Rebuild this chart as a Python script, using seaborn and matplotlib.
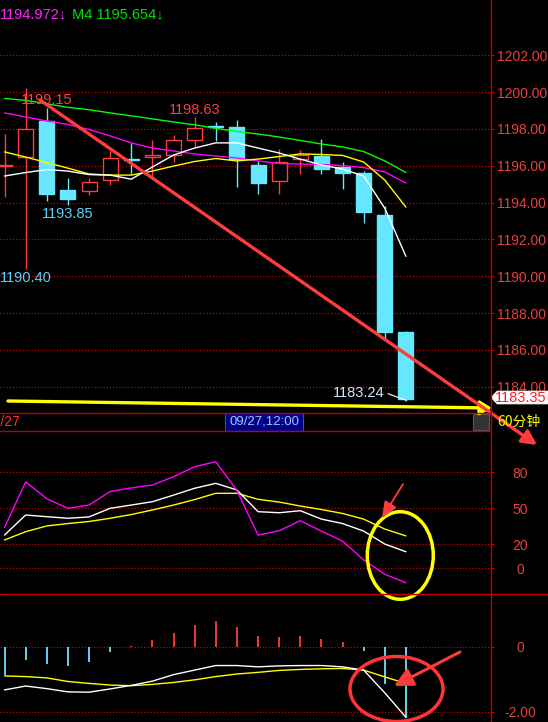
import numpy as np
import pandas as pd
import seaborn as sns
import matplotlib.pyplot as plt
from matplotlib.patches import Ellipse, FancyArrowPatch, Polygon, Rectangle
from matplotlib.lines import Line2D

# --- 60 minute candles ---
opens = [1195.98, 1196.46, 1198.44, 1194.68, 1194.64, 1195.22, 1196.38, 1196.46, 1196.58, 1197.38,
         1198.18, 1198.09, 1196.04, 1195.18, 1196.35, 1196.53, 1195.95, 1195.62, 1193.31, 1186.99]
closes = [1196.02, 1197.98, 1194.46, 1194.17, 1195.10, 1196.40, 1196.32, 1196.56, 1197.38, 1198.04,
          1198.12, 1196.35, 1195.07, 1196.19, 1196.58, 1195.80, 1195.62, 1193.49, 1186.99, 1183.35]
highs = [1197.73, 1200.20, 1199.15, 1195.31, 1195.35, 1196.80, 1197.22, 1197.40, 1197.67, 1198.63,
         1198.37, 1198.49, 1196.27, 1196.91, 1196.86, 1197.45, 1196.19, 1195.70, 1193.80, 1187.05]
lows = [1194.29, 1190.40, 1194.08, 1193.85, 1194.40, 1194.95, 1195.53, 1195.26, 1196.22, 1197.04,
        1197.36, 1194.86, 1194.44, 1194.44, 1195.53, 1195.55, 1194.73, 1192.89, 1186.60, 1183.24]

# moving averages
ma_white = [1195.44, 1195.63, 1195.79, 1195.71, 1195.52, 1195.49, 1195.27, 1195.93, 1196.58, 1196.96,
            1197.24, 1197.24, 1196.96, 1196.69, 1196.36, 1196.04, 1195.82, 1195.44, 1193.69, 1191.08]
ma_yellow = [1196.75, 1196.47, 1196.17, 1195.87, 1195.55, 1195.49, 1195.49, 1195.71, 1195.98, 1196.23,
             1196.39, 1196.26, 1196.36, 1196.50, 1196.64, 1196.61, 1196.56, 1196.20, 1195.22, 1193.75]
ma_magenta = [1198.87, 1198.65, 1198.43, 1198.24, 1197.97, 1197.62, 1197.24, 1196.96, 1196.80, 1196.64,
              1196.53, 1196.42, 1196.26, 1196.12, 1196.09, 1196.07, 1196.01, 1195.90, 1195.66, 1195.06]
ma_green = [1199.65, 1199.55, 1199.36, 1199.17, 1199.04, 1198.87, 1198.71, 1198.54, 1198.38, 1198.22,
            1198.03, 1197.86, 1197.72, 1197.56, 1197.37, 1197.18, 1197.02, 1196.77, 1196.26, 1195.63]

# KDJ
k_line = [27.7, 44.4, 43.0, 41.7, 42.8, 50.0, 52.7, 55.5, 61.0, 66.7,
          70.8, 65.3, 47.2, 46.3, 48.0, 41.0, 37.3, 31.0, 20.2, 13.8]
d_line = [23.6, 30.5, 35.3, 37.3, 39.0, 41.7, 44.8, 48.6, 52.7, 57.3,
          62.5, 62.5, 57.5, 55.2, 51.9, 49.0, 45.7, 41.0, 32.7, 27.0]
j_line = [34.0, 72.0, 58.0, 50.0, 52.7, 64.0, 67.0, 69.4, 76.3, 84.7,
          88.8, 65.0, 27.7, 31.3, 39.7, 31.0, 22.7, 7.0, -5.0, -12.0]

# MACD
macd_dif = [-1.33, -1.21, -1.29, -1.39, -1.40, -1.30, -1.19, -1.06, -0.86, -0.72,
            -0.58, -0.58, -0.62, -0.59, -0.58, -0.58, -0.62, -0.72, -1.42, -2.17]
macd_dea = [-0.90, -0.92, -0.96, -1.07, -1.13, -1.18, -1.20, -1.16, -1.10, -1.02,
            -0.92, -0.84, -0.79, -0.73, -0.70, -0.68, -0.67, -0.72, -0.93, -1.13]
macd_hist = [-0.87, -0.41, -0.53, -0.59, -0.47, -0.16, 0.02, 0.21, 0.43, 0.67,
             0.79, 0.61, 0.33, 0.31, 0.33, 0.24, 0.15, -0.13, -1.15, -2.20]

price_ticks = [1184, 1186, 1188, 1190, 1192, 1194, 1196, 1198, 1200, 1202]
kdj_ticks = [0, 20, 50, 80]
macd_ticks = [-2.0, 0.0]
macd_tick_labels = ['-2.00', '0']

UP = '#ff3c3c'
DOWN = '#66e6ff'
GRID = '#c80000'
AXRED = '#e8403c'

W, H = 548, 722
def fx(px):
    return px / W
def fy(py):
    return 1 - py / H

sns.set_theme(style='dark')
plt.rcParams['font.family'] = ['Liberation Sans', 'DejaVu Sans']

df = pd.DataFrame({'t': np.arange(len(opens)), 'open': opens, 'close': closes,
                   'high': highs, 'low': lows, 'ma1': ma_white, 'ma2': ma_yellow,
                   'ma3': ma_magenta, 'ma4': ma_green, 'k': k_line, 'd': d_line,
                   'j': j_line, 'dif': macd_dif, 'dea': macd_dea, 'hist': macd_hist})

fig = plt.figure(figsize=(W / 100, H / 100), dpi=100, facecolor='black')
ax1 = fig.add_axes([0, fy(412), fx(490), 412 / H])
ax2 = fig.add_axes([0, fy(593), fx(490), 162 / H])
ax3 = fig.add_axes([0, 0, fx(490), 129 / H])

xlim = (-0.213, 22.98)
for ax in (ax1, ax2, ax3):
    ax.set_facecolor('black')
    ax.set_xlim(*xlim)
    ax.set_xticks([])
    for s in ax.spines.values():
        s.set_visible(False)
    ax.yaxis.tick_right()
    ax.tick_params(axis='y', direction='out', length=2.9, width=0.8, color=GRID,
                   labelcolor=AXRED, labelsize=10, left=False, right=True,
                   labelleft=False, labelright=True)

# ---- price panel ----
ax1.set_ylim(1182.625, 1205.0)
ax1.set_yticks(price_ticks)
ax1.set_yticklabels([f'{v:.2f}' for v in price_ticks])
ax1.tick_params(axis='y', pad=2.2)
for v in price_ticks:
    ax1.axhline(v, color=GRID, lw=0.9, ls=(0, (1, 1.5)), zorder=1)

up = df['close'] >= df['open']
ax1.vlines(df['t'], df['low'], df['high'], colors=np.where(up, UP, DOWN), lw=1.0, zorder=2)
body = (df['close'] - df['open']).abs().clip(lower=0.03)
bottom = df[['open', 'close']].min(axis=1)
ax1.bar(df['t'][up], body[up], bottom=bottom[up], width=0.71, facecolor='black',
        edgecolor=UP, lw=1.0, zorder=3)
ax1.bar(df['t'][~up], body[~up], bottom=bottom[~up], width=0.71, facecolor=DOWN,
        edgecolor=DOWN, lw=1.0, zorder=3)

for col, c in [('ma4', '#00ff00'), ('ma3', '#ff00ff'), ('ma2', '#ffff00'), ('ma1', 'white')]:
    sns.lineplot(data=df, x='t', y=col, ax=ax1, color=c, lw=1.0, legend=False, zorder=4)
ax1.set_xlabel('')
ax1.set_ylabel('')

ax1.text(2, 1199.33, '1199.15', color=UP, fontsize=10.5, ha='center', va='baseline', zorder=5)
ax1.text(9, 1198.80, '1198.63', color=UP, fontsize=10.5, ha='center', va='baseline', zorder=5)
ax1.text(3, 1193.18, '1193.85', color='#5ad2ff', fontsize=10.5, ha='center', va='baseline', zorder=5)
ax1.text(1, 1189.69, '1190.40', color='#5ad2ff', fontsize=10.5, ha='center', va='baseline', zorder=5)
ax1.text(18.0, 1183.42, '1183.24', color='#d0e8ff', fontsize=10.5, ha='right', va='baseline', zorder=5)
ax1.plot([18.15, 19.0], [1183.62, 1183.26], color='white', lw=0.8, zorder=5)

# ---- KDJ panel ----
ax2.set_ylim(-20.58, 114.42)
ax2.set_yticks(kdj_ticks)
ax2.set_yticklabels([str(v) for v in kdj_ticks])
ax2.tick_params(axis='y', pad=18.7)
for lab in ax2.get_yticklabels():
    lab.set_horizontalalignment('center')
for v in kdj_ticks:
    ax2.axhline(v, color=GRID, lw=0.9, ls=(0, (1, 1.5)), zorder=1)
for col, c in [('d', '#ffff00'), ('k', 'white'), ('j', '#ff00ff')]:
    sns.lineplot(data=df, x='t', y=col, ax=ax2, color=c, lw=1.0, legend=False, zorder=3)
ax2.set_xlabel('')
ax2.set_ylabel('')

# ---- MACD panel ----
ax3.set_ylim(-2.317, 1.652)
ax3.set_yticks(macd_ticks)
ax3.set_yticklabels(macd_tick_labels)
ax3.tick_params(axis='y', pad=18.7)
for lab in ax3.get_yticklabels():
    lab.set_horizontalalignment('center')
for v in macd_ticks:
    ax3.axhline(v, color=GRID, lw=0.9, ls=(0, (1, 1.5)), zorder=1)
ax3.vlines(df['t'], 0, df['hist'], colors=np.where(df['hist'] > 0, UP, DOWN), lw=1.3, zorder=2)
sns.lineplot(data=df, x='t', y='dea', ax=ax3, color='#ffff00', lw=1.0, legend=False, zorder=3)
sns.lineplot(data=df, x='t', y='dif', ax=ax3, color='white', lw=1.0, legend=False, zorder=3)
ax3.set_xlabel('')
ax3.set_ylabel('')

# ---- frame lines ----
for (x0, y0, x1, y1) in [(490.5, 0, 490.5, 722), (0, 412.5, 490, 412.5),
                         (0, 431, 490, 431), (0, 593.5, 548, 593.5)]:
    fig.add_artist(Line2D([fx(x0), fx(x1)], [fy(y0), fy(y1)], color='#c00000', lw=1.0,
                          transform=fig.transFigure))

# ---- top legend ----
fig.text(fx(0), fy(18.3), '1194.972↓', color='#ff22ff', fontsize=10.5, va='baseline')
fig.text(fx(72), fy(18.3), 'M4 1195.654↓', color='#00e000', fontsize=10.5, va='baseline')

# ---- time bar ----
fig.text(fx(20.5), fy(422), '09/27', color='#ff3030', fontsize=10, ha='right', va='center')
fig.add_artist(Rectangle((fx(225), fy(431)), 78 / W, 18 / H, transform=fig.transFigure,
                         facecolor='#000088', edgecolor='#3050c0', lw=0.8))
fig.text(fx(264), fy(422), '09/27,12:00', color='#9ec8ff', fontsize=9.5, ha='center', va='center')
fig.add_artist(Rectangle((fx(473), fy(430)), 16 / W, 16 / H, transform=fig.transFigure,
                         facecolor='#333333', edgecolor='#5a5a5a', lw=0.8))
fig.text(fx(497), fy(422), '60分钟', color='#ffff00', fontsize=10, ha='left', va='center',
         family=['Noto Sans CJK SC', 'DejaVu Sans'])

# ---- last price tag ----
tag = [(491, 397.5), (497, 391), (548, 391), (548, 404), (497, 404)]
fig.add_artist(Polygon([(fx(a), fy(b)) for a, b in tag], closed=True, transform=fig.transFigure,
                       facecolor='white', edgecolor='#dddddd', lw=0.5))
fig.text(fx(521), fy(397.5), '1183.35', color='#ff2020', fontsize=10.5, ha='center', va='center')

# ---- hand drawn marks ----
fig.add_artist(FancyArrowPatch((fx(8), fy(401)), (fx(492), fy(408)), transform=fig.transFigure,
                               arrowstyle='-|>,head_length=0.5,head_width=0.3', mutation_scale=14,
                               color='#ffff00', lw=2.4, shrinkA=0, shrinkB=0))
fig.add_artist(FancyArrowPatch((fx(40), fy(100)), (fx(537), fy(445)), transform=fig.transFigure,
                               arrowstyle='-|>,head_length=0.55,head_width=0.28', mutation_scale=16,
                               color='#ff3c3c', lw=2.4, shrinkA=0, shrinkB=0))
fig.add_artist(Ellipse((fx(400.3), fy(555.5)), 66 / W, 87.6 / H, transform=fig.transFigure,
                       fill=False, edgecolor='#ffff00', lw=2.5))
fig.add_artist(FancyArrowPatch((fx(403), fy(484)), (fx(382), fy(518)), transform=fig.transFigure,
                               arrowstyle='-|>,head_length=0.7,head_width=0.3', mutation_scale=14,
                               color='#ff3c3c', lw=1.3, shrinkA=0, shrinkB=0))
fig.add_artist(Ellipse((fx(396.5), fy(689)), 93 / W, 65 / H, transform=fig.transFigure,
                       fill=False, edgecolor='#ff3535', lw=2.5))
fig.add_artist(FancyArrowPatch((fx(460), fy(652)), (fx(394), fy(686)), transform=fig.transFigure,
                               arrowstyle='-|>,head_length=0.7,head_width=0.35', mutation_scale=16,
                               color='#ff3c3c', lw=2.2, shrinkA=0, shrinkB=0))

fig.savefig('out.png', dpi=100, facecolor='black')
